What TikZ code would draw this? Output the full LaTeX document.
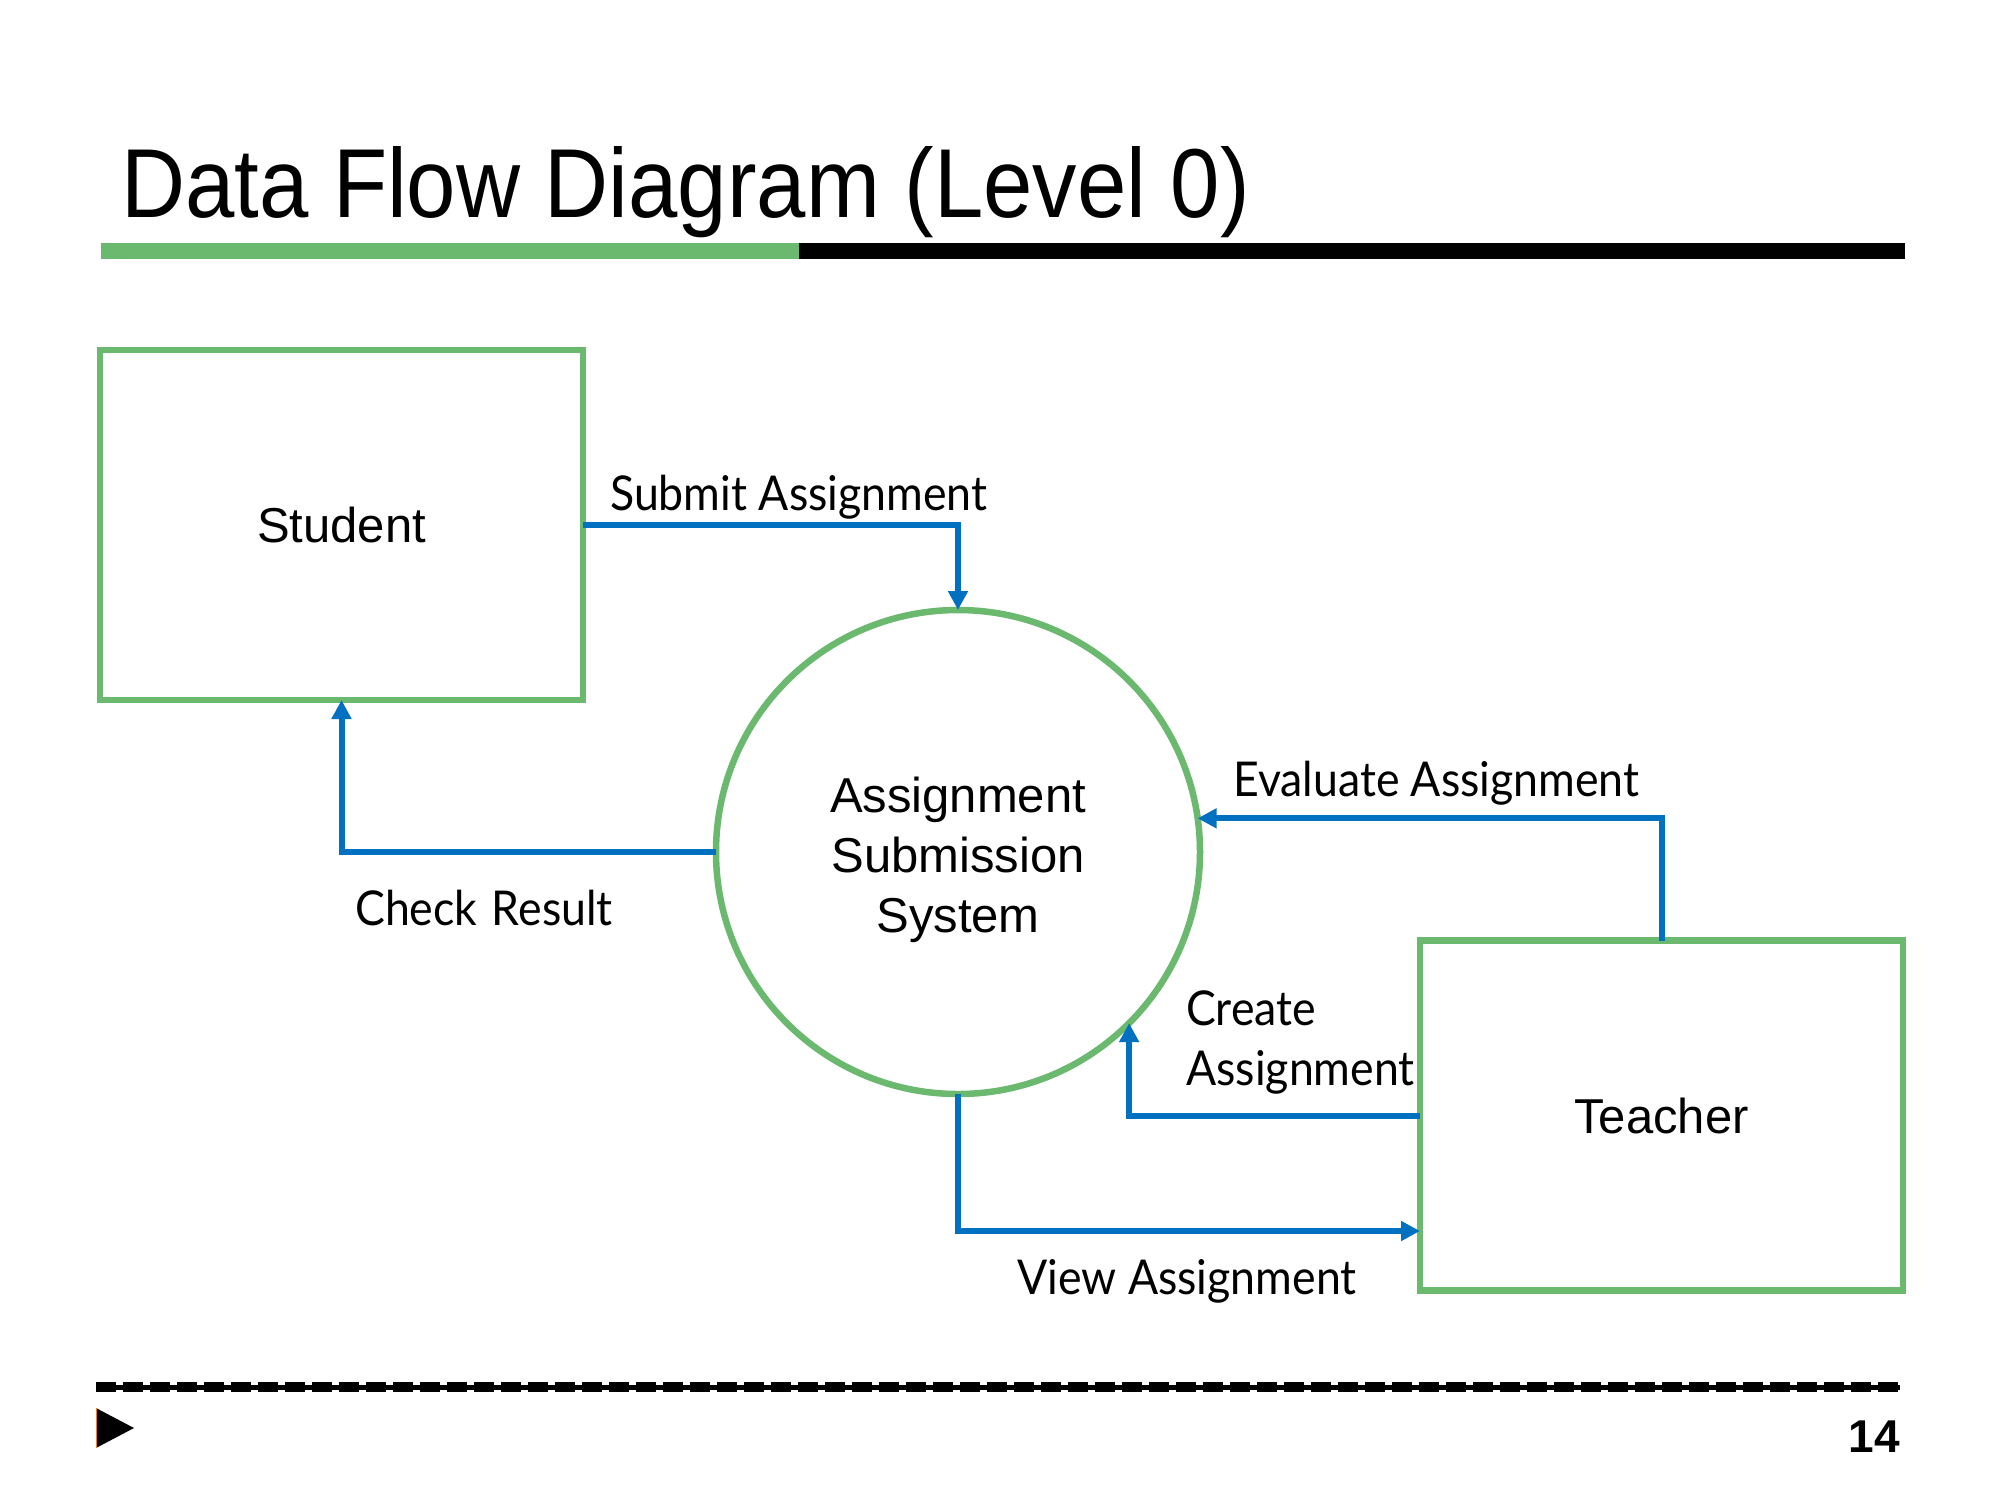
\documentclass[tikz,border=0pt]{standalone}
\usepackage{fontspec}
\setmainfont{Liberation Sans}
\newfontfamily\titlefont[FakeStretch=0.905]{Liberation Sans}
\newfontfamily\flowfont[FakeStretch=0.93]{Lato}
\usetikzlibrary{arrows.meta,calc}
\definecolor{boxgreen}{HTML}{6BB86F}
\definecolor{flowblue}{HTML}{0070C0}
\begin{document}
\begin{tikzpicture}[x=1pt,y=-1pt,
  entity/.style={draw=boxgreen,line width=6.5pt,rectangle,minimum width=483pt,
    minimum height=350pt,inner sep=0pt,outer sep=0pt,font=\fontsize{49}{60}\selectfont},
  process/.style={draw=boxgreen,line width=6.5pt,circle,minimum size=484pt,
    inner sep=0pt,outer sep=0pt},
  proctext/.style={align=center,inner sep=0pt,font=\fontsize{49}{60}\selectfont},
  flow/.style={draw=flowblue,line width=6pt,-{Triangle[length=19pt,width=19pt]}},
  flowlabel/.style={anchor=base west,inner sep=0pt,font=\flowfont\fontsize{48}{56}\selectfont}
]
\useasboundingbox[fill=white] (0,0) rectangle (2000,1500);

% heading and rule
\node[anchor=base west,inner sep=0pt,font=\titlefont\fontsize{98}{100}\selectfont]
  (title) at (121,217) {Data Flow Diagram (Level 0)};
\fill[boxgreen] (101,243) rectangle (799,259);
\fill[black] (799,243) rectangle (1905,259);

% external entities and the process
\node[entity] (student) at (341.5,525) {Student};
\node[process] (sys) at (958,852) {};
\node[proctext] (systext) at (958,860) {Assignment\\Submission\\System};
\node[entity] (teacher) at (1661.5,1115.5) {Teacher};

% data flows
\draw[flow] (student.east) -| (sys.north);
\draw[flow] (sys.west) -| (student.south);
\draw[flow] (teacher.north) |- (sys.8.55);
\draw[flow] (teacher.west) -| (sys.-45);
\draw[flow] (sys.south) |- ($(teacher.south west)!0.17!(teacher.north west)$);

% flow labels
\node[flowlabel] (lsubmit) at (610,510) {Submit Assignment};
\node[flowlabel] (lcheck) at (355,925) {Check\hspace{3pt} Result};
\node[flowlabel] (leval) at (1233,796) {Evaluate Assignment};
\node[flowlabel] (lcreate) at (1186,1025) {Create};
\node[flowlabel] (lcreate2) at (1186,1085) {Assignment};
\node[flowlabel] (lview) at (1017,1294) {View Assignment};

% footer
\draw[line width=5pt] (96,1387) -- (1900,1387);
\draw[line width=9.5pt,dash pattern=on 20pt off 7pt] (96,1387) -- (1900,1387);
\fill[black] (96,1408) -- (134,1428) -- (96,1448) -- cycle;
\draw[draw=orange!70!brown,line width=1pt] (96.5,1408) -- (96.5,1448);
\node[anchor=base east,inner sep=0pt,font=\bfseries\fontsize{46}{50}\selectfont]
  (pagenum) at (1900,1452) {14};
\end{tikzpicture}
\end{document}
